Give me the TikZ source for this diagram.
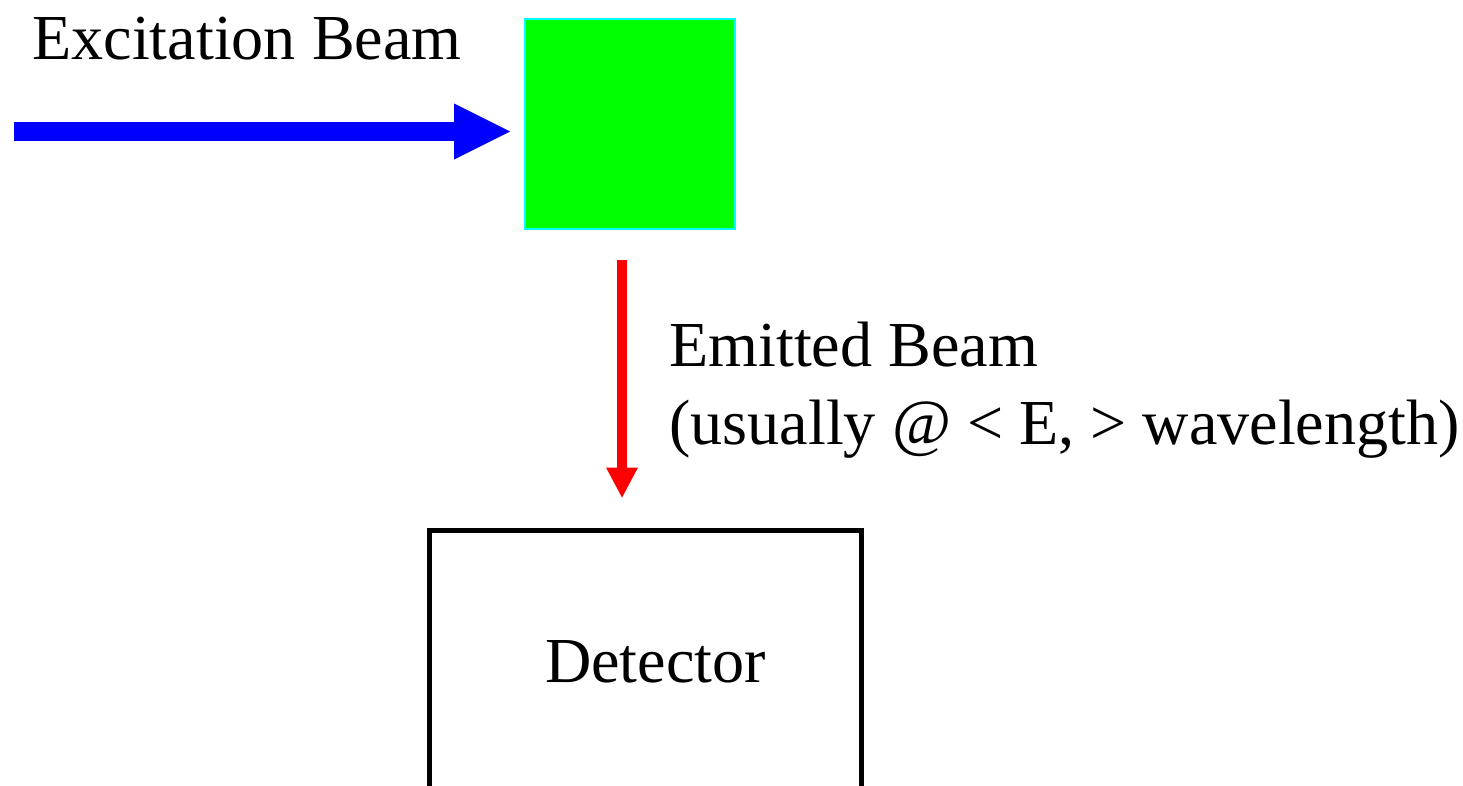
\documentclass[tikz,border=0pt]{standalone}
\usepackage{fontspec}
\setmainfont{Liberation Serif}
\usepackage{xcolor}
\usepackage{tikz}
\usetikzlibrary{arrows.meta,positioning}
\definecolor{sampgreen}{RGB}{0,255,0}
\definecolor{sampedge}{RGB}{0,255,255}
\definecolor{excblue}{RGB}{0,0,255}
\definecolor{emitred}{RGB}{255,0,0}

\begin{document}
\begin{tikzpicture}[
  x=0.02cm, y=-0.02cm,
  every node/.style={font=\fontsize{36.5}{44}\selectfont, inner sep=0pt},
  samplebox/.style={draw=sampedge, fill=sampgreen, line width=0.04cm, minimum width=4.2cm, minimum height=4.2cm},
  detbox/.style={draw, line width=0.1cm, minimum width=8.66cm, minimum height=5.28cm},
  excbeam/.style={draw=excblue, line width=0.38cm, -{Triangle[length=1.12cm, width=1.12cm, line width=0pt]}},
  emitbeam/.style={draw=emitred, line width=0.2cm, -{Triangle[length=0.6cm, width=0.64cm, line width=0pt]}},
  ]
  \useasboundingbox (0,0) rectangle (1463,786);
  \node[samplebox] (sample) at (630,124) {};
  \node[detbox] (det) at (645.5,662) {\hspace*{0.4cm}Detector};
  \node[anchor=base west] (exclabel) at (32,60) {Excitation Beam};
  \node[anchor=north west, align=left] (emitlabel) at (669,322) {Emitted Beam\\(usually @ < E, > wavelength)};
  \coordinate (src) at (14,131.5);
  \draw[excbeam, shorten >=0.28cm] (src) -- (sample.west |- src);
  \draw[emitbeam, shorten <=0.6cm, shorten >=0.6cm] ([xshift=-0.16cm]sample.south) -- ([xshift=-0.16cm]sample.south |- det.north);
\end{tikzpicture}
\end{document}
